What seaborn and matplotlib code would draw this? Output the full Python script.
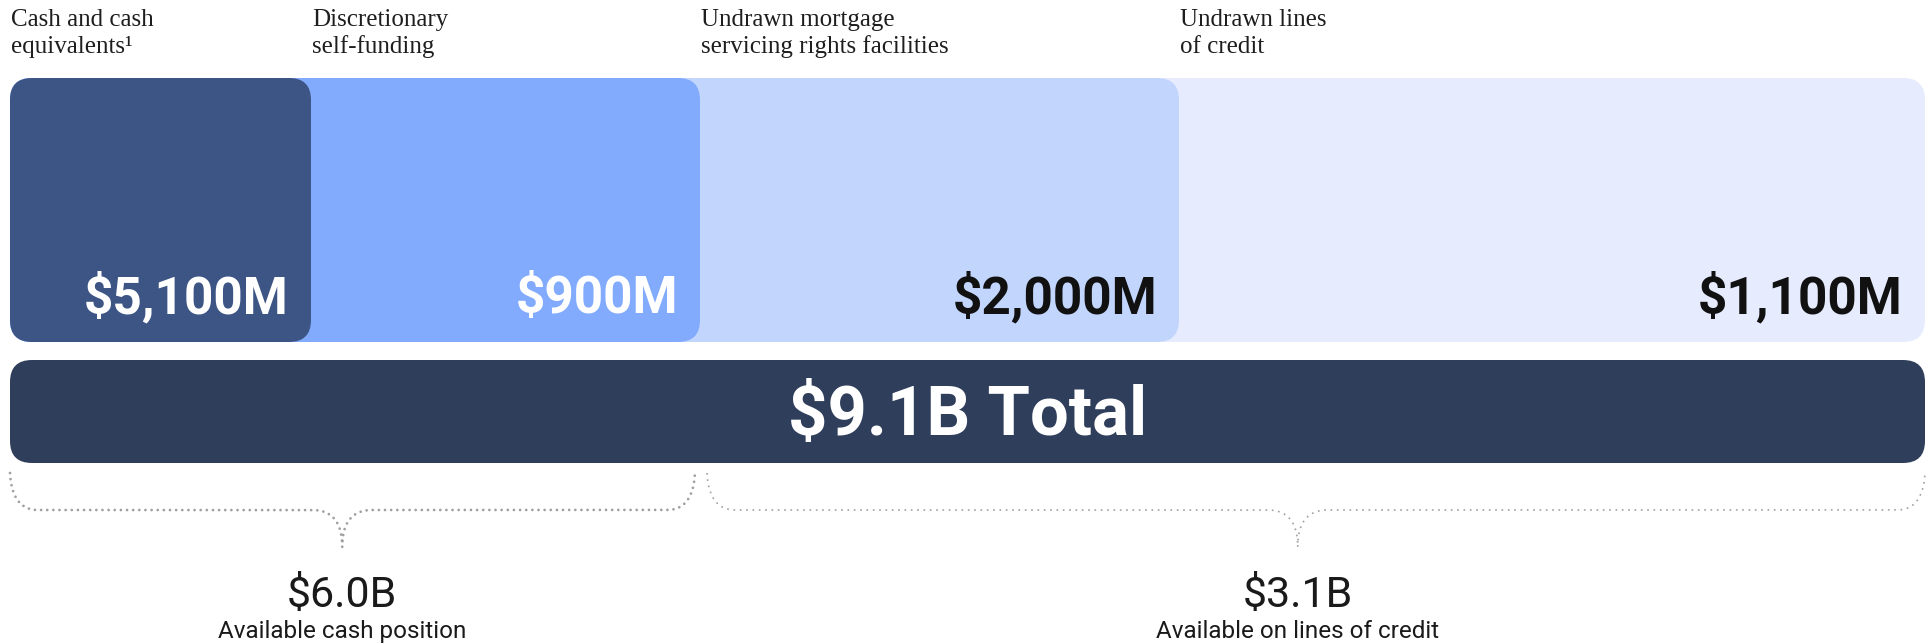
import numpy as np
import pandas as pd
import matplotlib
matplotlib.use("Agg")
import matplotlib.pyplot as plt
from matplotlib.patches import FancyBboxPatch
import seaborn as sns

# ---------------- data ----------------
categories = [
    "Cash and cash\nequivalents\u00b9",
    "Discretionary\nself-funding",
    "Undrawn mortgage\nservicing rights facilities",
    "Undrawn lines\nof credit",
]
values_musd = [5100, 900, 2000, 1100]
groups = ["cash", "cash", "credit", "credit"]
group_names = ["cash", "credit"]
group_labels = ["Available cash position", "Available on lines of credit"]

# ---------------- style / layout ----------------
segment_span_px = [301, 389, 479, 746]       # designed (non-proportional) widths
seg_colors = ["#3d5585", "#82abfd", "#c2d5fd", "#e6ecfe"]
seg_text_colors = ["#ffffff", "#ffffff", "#111111", "#111111"]
total_color = "#2f3e5b"
brace_color = "#a0a0a0"

W, H = 1929, 643
LEFT = 10

sns.set_theme(style="white")
plt.rcParams["font.family"] = ["Roboto", "DejaVu Sans"]

fig = plt.figure(figsize=(W / 100, H / 100), dpi=100)
fig.patch.set_facecolor("white")

def px_axes(top, bottom):
    return fig.add_axes([0, 1 - bottom / H, 1, (bottom - top) / H])

ax_top = px_axes(78, 342)
ax_tot = px_axes(360, 463)
ax_ann = fig.add_axes([0, 0, 1, 1])

extents = np.cumsum(segment_span_px)
df = pd.DataFrame({"row": ["seg"] * 4, "extent": extents, "category": categories})
pal = dict(zip(categories, seg_colors))
sns.barplot(data=df, x="extent", y="row", hue="category", hue_order=categories[::-1],
            palette=pal, dodge=False, width=1, saturation=1, legend=False, ax=ax_top)

tot_df = pd.DataFrame({"row": ["total"], "extent": [extents[-1]]})
sns.barplot(data=tot_df, x="extent", y="row", color=total_color, width=1,
            saturation=1, ax=ax_tot)


def round_bars(ax, height_px, radius_px):
    patches = sorted(list(ax.patches), key=lambda p: -p.get_width())
    for z, p in enumerate(patches):
        x, y, w, h = p.get_x(), p.get_y(), p.get_width(), p.get_height()
        fc = p.get_facecolor()
        p.remove()
        fb = FancyBboxPatch((x, y), w, h,
                            boxstyle=f"round,pad=0,rounding_size={radius_px}",
                            mutation_aspect=1.0 / height_px,
                            facecolor=fc, edgecolor="none", zorder=2 + z)
        ax.add_patch(fb)


round_bars(ax_top, 264, 22)
round_bars(ax_tot, 103, 22)

for ax in (ax_top, ax_tot):
    ax.set_xlim(-LEFT, W - LEFT)
    ax.set_ylim(0.5, -0.5)
    ax.axis("off")

# value labels inside segments
for i, (v, ext) in enumerate(zip(values_musd, extents)):
    ax_top.annotate(f"${v:,}M", xy=(ext, 0.5), xytext=(-22 * 0.72, 29 * 0.72),
                    textcoords="offset points", ha="right", va="baseline",
                    fontsize=37, fontweight="bold", color=seg_text_colors[i],
                    zorder=20)

total = sum(values_musd)
ax_tot.annotate(f"${total / 1000:.1f}B Total", xy=(extents[-1] / 2, 0),
                xytext=(0, -24 * 0.72), textcoords="offset points",
                ha="center", va="baseline", fontsize=49.5, fontweight="bold",
                color="white", zorder=20)

# annotation layer in pixel coordinates
ax_ann.set_xlim(-LEFT, W - LEFT)
ax_ann.set_ylim(H, 0)
ax_ann.axis("off")
ax_ann.patch.set_visible(False)

starts = np.concatenate([[0], extents[:-1]])
for s, lab in zip(starts, categories):
    for k, line in enumerate(lab.split("\n")):
        ax_ann.text(s + 1, 26 + 27 * k, line, ha="left", va="baseline", fontsize=18,
                    family=["Liberation Serif", "DejaVu Serif"], color="#1e1e1e")


def qbez(p0, p1, p2, n=40):
    t = np.linspace(0, 1, n)[:, None]
    p0, p1, p2 = map(np.asarray, (p0, p1, p2))
    return (1 - t) ** 2 * p0 + 2 * (1 - t) * t * p1 + t ** 2 * p2


def brace(x0, x1, ytop=473, ymid=510, ytip=547, r_end=28, r_tip=30, frac=0.485):
    tip = x0 + frac * (x1 - x0)
    a = qbez((x0, ytop), (x0 + 2, ymid), (x0 + r_end, ymid))
    b = qbez((tip - r_tip, ymid), (tip, ymid), (tip, ytip))
    c = qbez((tip, ytip), (tip, ymid), (tip + r_tip, ymid))
    d = qbez((x1 - r_end, ymid), (x1 - 2, ymid), (x1, ytop))
    pts = np.vstack([a, b, c, d])
    return pts, tip


group_sums = [sum(v for v, g in zip(values_musd, groups) if g == gn) for gn in group_names]
group_ranges = []
for gn in group_names:
    idx = [i for i, g in enumerate(groups) if g == gn]
    group_ranges.append((starts[idx[0]], extents[idx[-1]]))

brace_styles = [
    dict(lw=2.0, dashes=(0.01, 2.2), dash_capstyle="round"),
    dict(lw=1.2, dashes=(1.0, 2.8), dash_capstyle="butt"),
]
offsets = [(0, -5), (7, 0)]
for (gs, ge), gsum, glab, st, (o0, o1) in zip(group_ranges, group_sums, group_labels,
                                               brace_styles, offsets):
    pts, tip = brace(gs + o0, ge + o1)
    ax_ann.plot(pts[:, 0], pts[:, 1], color=brace_color, linewidth=st["lw"],
                dashes=st["dashes"], dash_capstyle=st["dash_capstyle"])
    ax_ann.text(tip, 607, f"${gsum / 1000:.1f}B", ha="center", va="baseline",
                fontsize=31, color="#1a1a1a")
    ax_ann.text(tip, 638, glab, ha="center", va="baseline", fontsize=17.5,
                color="#1a1a1a")

fig.savefig("out.png", dpi=100, facecolor="white")
